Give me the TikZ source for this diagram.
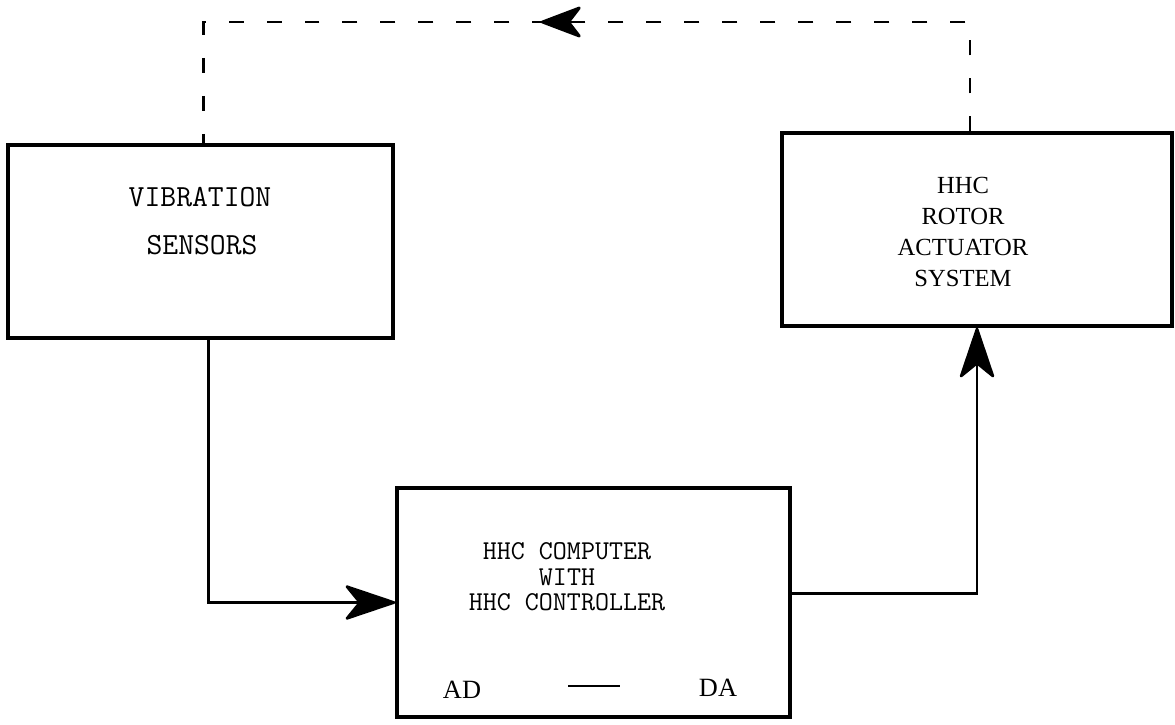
\documentclass[tikz,border=0pt]{standalone}
\usepackage{fontspec}
\setmainfont{Liberation Serif}
\usepackage{tikz}
\usetikzlibrary{arrows.meta,positioning,decorations.markings}
\tikzset{
  block/.style={draw,line width=1.9pt,inner sep=0pt},
  ttlabel/.style={font=\fontsize{17.5}{20}\selectfont\ttfamily,align=center,inner sep=0pt},
  rmlabel/.style={font=\fontsize{14}{17.6}\selectfont,align=center,inner sep=0pt},
  flowline/.style={line width=1.5pt,-{Stealth[length=11mm,width=7.4mm,inset=3mm,round]}},
  feedback/.style={line width=1.6pt,dash pattern=on 0.3cm off 0.46cm,
    postaction={decorate,decoration={markings,
      mark=at position 0.54 with {\arrow[solid]{Stealth[length=9mm,width=6.8mm,inset=2.6mm,round]}}}}}
}
\begin{document}
\begin{tikzpicture}[x=0.02cm,y=-0.02cm]
  \useasboundingbox (0,0) rectangle (1175,724);
  % blocks
  \node[block,minimum width=7.7cm,minimum height=3.86cm] (sens) at (200.5,241.5) {};
  \node[block,minimum width=7.8cm,minimum height=3.86cm] (act) at (977,229.5) {};
  \node[block,minimum width=7.86cm,minimum height=4.58cm] (comp) at (593.5,602.5) {};
  % texts
  \node[ttlabel] (vib) at (200,197) {VIBRATION};
  \node[ttlabel] (sen) at (202,245) {SENSORS};
  \node[rmlabel] (acttext) at (963,232) {HHC\\ROTOR\\ACTUATOR\\SYSTEM};
  \node[ttlabel,font=\fontsize{15.5}{14.6}\selectfont\ttfamily] (comptext) at (567,577)
    {HHC COMPUTER\\WITH\\HHC CONTROLLER};
  \node[rmlabel,font=\fontsize{15}{17}\selectfont] (ad) at (462,690) {AD};
  \node[rmlabel,font=\fontsize{15}{17}\selectfont] (da) at (718,688) {DA};
  \node[inner sep=0pt] (sep) at (594,686) {\rule{1.04cm}{1pt}};
  % connectors
  \coordinate (ret) at (586,22);
  \draw[flowline] ([xshift=0.16cm]sens.south) |- (comp.west);
  \draw[flowline] ([yshift=0.18cm]comp.east) -| (act.south);
  \draw[feedback] ([xshift=-0.14cm]act.north) |- (ret) -| ([xshift=0.06cm]sens.north);
\end{tikzpicture}
\end{document}
